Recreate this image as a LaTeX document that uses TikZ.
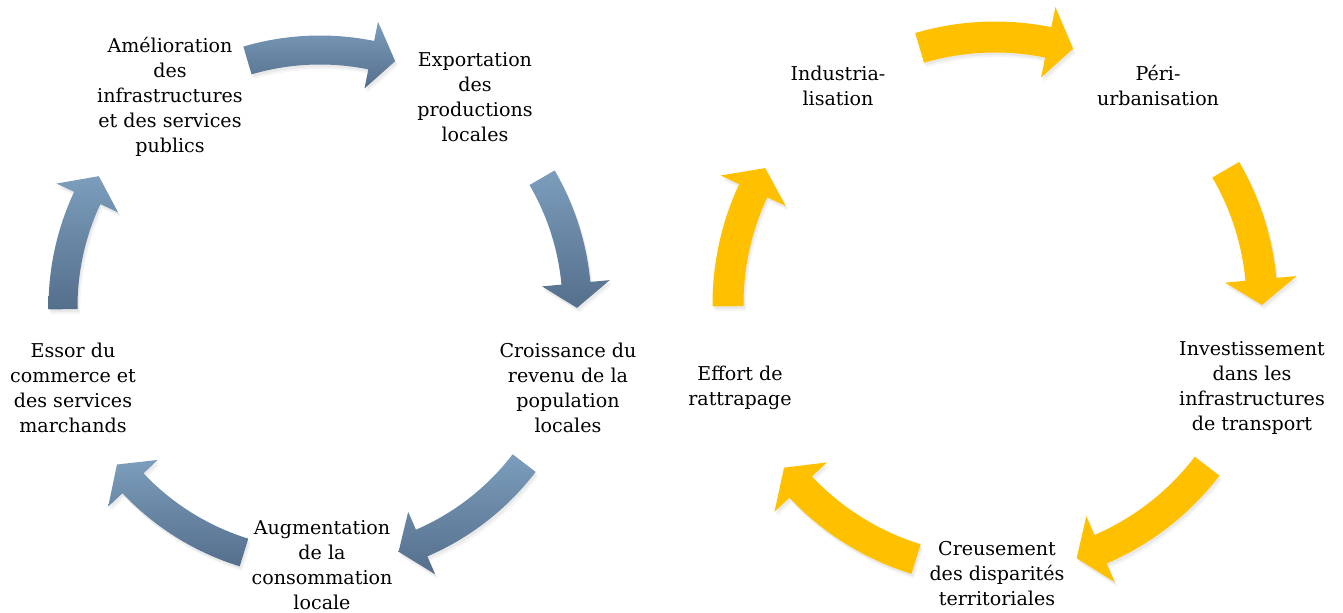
\documentclass[tikz,border=0pt]{standalone}
\usepackage{fontspec}
\setmainfont{DejaVu Serif}
\definecolor{bluetop}{RGB}{124,157,188}
\definecolor{bluebot}{RGB}{84,111,140}
\definecolor{gold}{RGB}{255,192,0}
\newcommand{\cyclearrow}[8]{% #1 style, #2 centre, #3 r, #4 shaft half width, #5 head half width, #6 tail angle, #7 tip angle, #8 head angle
  \pgfmathsetmacro\cAro{#3+#4}\pgfmathsetmacro\cAri{#3-#4}%
  \pgfmathsetmacro\cAhO{#3+#5}\pgfmathsetmacro\cAhI{#3-#5}%
  \pgfmathsetmacro\cAb{#7+#8}%
  \path[#1] ([shift={(#2)}]#6:\cAro) arc[start angle=#6, end angle=\cAb, radius=\cAro]
    -- ([shift={(#2)}]\cAb:\cAhO) -- ([shift={(#2)}]#7:#3) -- ([shift={(#2)}]\cAb:\cAhI)
    -- ([shift={(#2)}]\cAb:\cAri) arc[start angle=\cAb, end angle=#6, radius=\cAri] -- cycle;}
\tikzset{
  lbl/.style={align=center, inner sep=0pt, text=black, font=\fontsize{14.3}{18.75}\selectfont},
  bluearrow/.style={top color=bluetop, bottom color=bluebot, draw=none},
  goldarrow/.style={fill=gold, draw=none},
  shadowA/.style={fill=black, fill opacity=0.05, xshift=1pt, yshift=-2pt},
  shadowB/.style={fill=black, fill opacity=0.04, xshift=2pt, yshift=-3.5pt},
}
\begin{document}
\begin{tikzpicture}[x=0.75pt,y=0.75pt]
\useasboundingbox (0,0) rectangle (1343,612);
\coordinate (cL) at (320,305);
\coordinate (cR) at (995,308);
% left cycle
\foreach \a/\b in {106.4/73, 30.2/-0.2, -37.4/-72.2, -107.2/-142.2, 180.5/149.4}{
  \cyclearrow{shadowB}{cL}{257}{14.5}{34}{\a}{\b}{5.5}
  \cyclearrow{shadowA}{cL}{257}{14.5}{34}{\a}{\b}{5.5}
  \cyclearrow{bluearrow}{cL}{257}{14.5}{34}{\a}{\b}{5.5}
}
% right cycle
\foreach \a/\b in {106.4/73, 30.2/-0.2, -37.4/-72.2, -107.2/-142.2, 180.5/149.4}{
  \cyclearrow{shadowB}{cR}{267}{15.5}{36}{\a}{\b}{5.5}
  \cyclearrow{shadowA}{cR}{267}{15.5}{36}{\a}{\b}{5.5}
  \cyclearrow{goldarrow}{cR}{267}{15.5}{36}{\a}{\b}{5.5}
}
% left labels
\node[lbl] (amel) at (170,515) {Amélioration\\des\\infrastructures\\et des services\\publics};
\node[lbl] (expo) at (475,515) {Exportation\\des\\productions\\locales};
\node[lbl] (croi) at (568,224) {Croissance du\\revenu de la\\population\\locales};
\node[lbl] (augm) at (322,47) {Augmentation\\de la\\consommation\\locale};
\node[lbl] (esso) at (73,224) {Essor du\\commerce et\\des services\\marchands};
% right labels
\node[lbl] (indu) at (838,526.5) {Industria-\\lisation};
\node[lbl] (peri) at (1158,526.5) {Péri-\\urbanisation};
\node[lbl] (inve) at (1252,224) {Investissement\\dans les\\infrastructures\\de transport};
\node[lbl] (creu) at (997,38.5) {Creusement\\des disparités\\territoriales};
\node[lbl] (effo) at (740,224) {Effort de\\rattrapage};
\end{tikzpicture}
\end{document}
